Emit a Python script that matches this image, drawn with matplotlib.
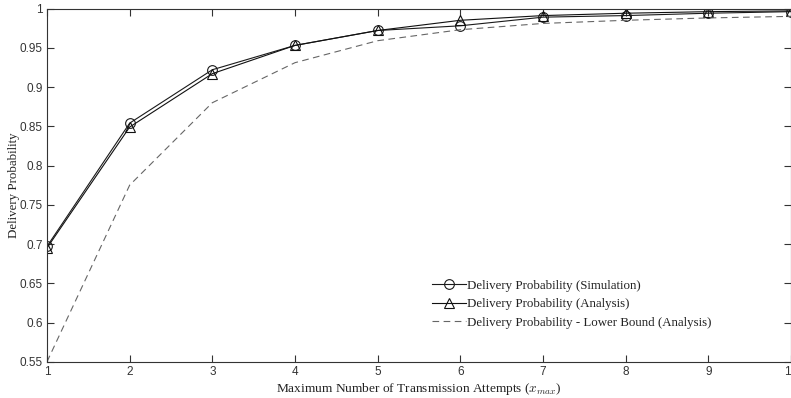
import numpy as np
import matplotlib.pyplot as plt

# Data
attempts = [1, 2, 3, 4, 5, 6, 7, 8, 9, 10]
p_sim = [0.697, 0.854, 0.922, 0.953, 0.972, 0.978, 0.989, 0.991, 0.994, 0.996]
p_analysis = [0.695, 0.849, 0.917, 0.953, 0.972, 0.985, 0.991, 0.994, 0.996, 0.997]
p_lower = [0.55, 0.775, 0.880, 0.931, 0.959, 0.973, 0.981, 0.985, 0.988, 0.990]

yticks = [0.55, 0.6, 0.65, 0.7, 0.75, 0.8, 0.85, 0.9, 0.95, 1]
ytick_labels = ['0.55', '0.6', '0.65', '0.7', '0.75', '0.8', '0.85', '0.9', '0.95', '1']

serif = ['Liberation Serif', 'DejaVu Serif']
plt.rcParams['font.family'] = ['Liberation Sans Narrow', 'Liberation Sans', 'DejaVu Sans']
plt.rcParams['mathtext.fontset'] = 'cm'

fig = plt.figure(figsize=(7.91, 3.98), dpi=100)
ax = fig.add_axes([0.0594, 0.091, 0.9406, 0.8876])

ax.plot(attempts, p_sim, color='#1a1a1a', lw=0.8, marker='o', ms=7,
        mfc='none', mec='#1a1a1a', mew=0.8,
        label='Delivery Probability (Simulation)')
ax.plot(attempts, p_analysis, color='#111111', lw=0.8, marker='^', ms=6.5,
        mfc='none', mec='#111111', mew=0.8,
        label='Delivery Probability (Analysis)')
ax.plot(attempts, p_lower, color='#666666', lw=0.8, ls=(0, (6, 4)),
        label='Delivery Probability - Lower Bound (Analysis)')

ax.set_xlim(1, 10)
ax.set_ylim(0.55, 1)
ax.set_xticks(attempts)
ax.set_yticks(yticks)
ax.set_yticklabels(ytick_labels)
ax.tick_params(direction='in', length=5, width=0.8, top=True, right=True,
               labelsize=8.5, colors='#333333', pad=3)
for s in ax.spines.values():
    s.set_color('#333333')
    s.set_linewidth(0.8)

ax.set_xlabel('Maximum Number of Transmission Attempts ($x_{max}$)',
              family=serif, fontsize=9.6, color='#222222', labelpad=2)
ax.set_ylabel('Delivery Probability', family=serif, fontsize=9.3,
              color='#222222')
ax.yaxis.set_label_coords(-0.036, 0.5)

leg = ax.legend(loc='lower right', bbox_to_anchor=(0.909, 0.061), frameon=False,
                prop={'family': serif, 'size': 9.3}, handlelength=2.6,
                handletextpad=0.1, labelspacing=0.5)
for t in leg.get_texts():
    t.set_color('#222222')

fig.savefig('out.png', dpi=100)
